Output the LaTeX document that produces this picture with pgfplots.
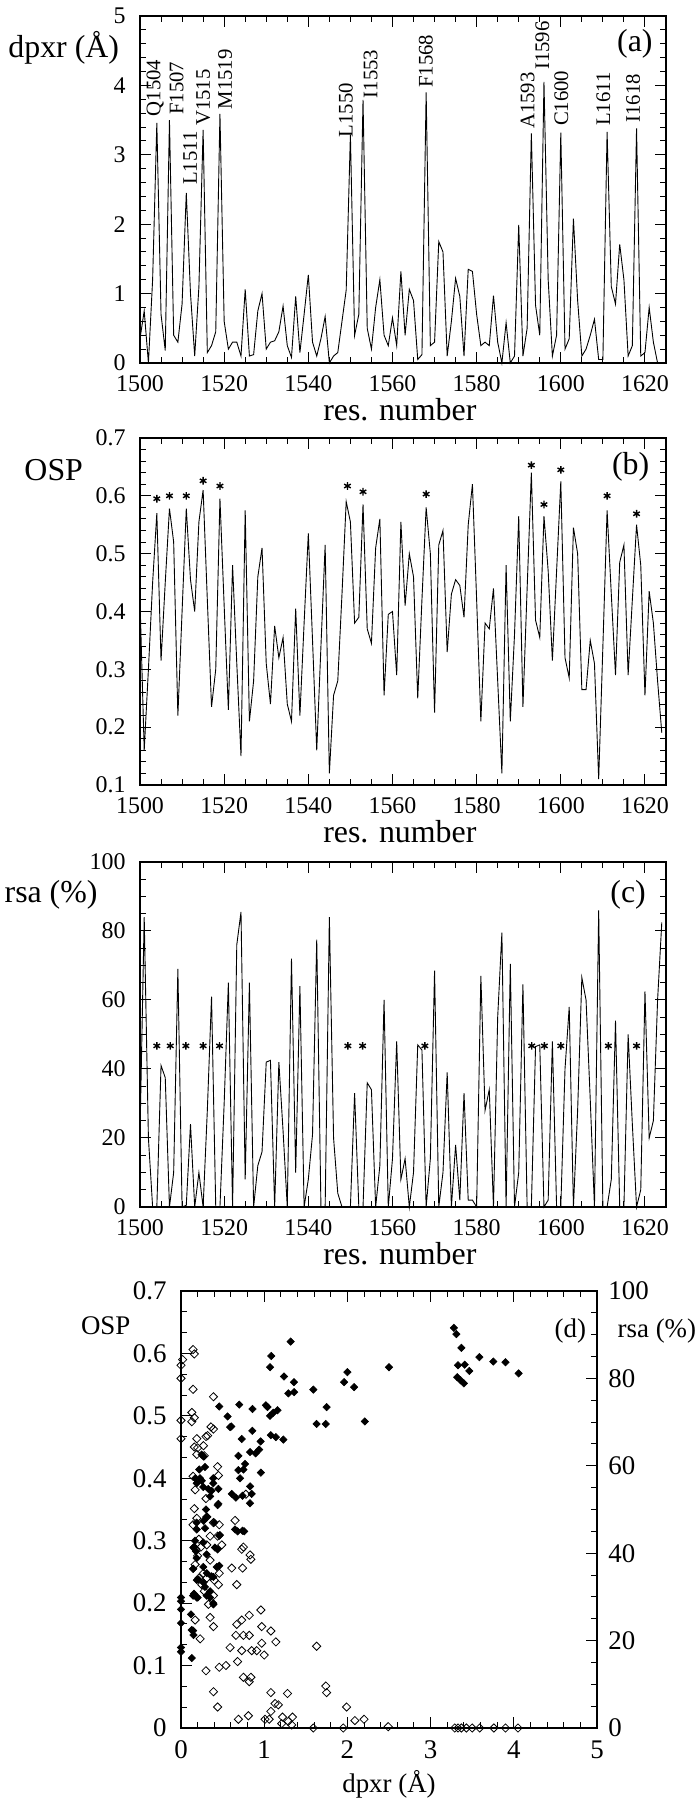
\documentclass[border=0pt]{standalone}
\usepackage{fontspec}
\setmainfont{Liberation Serif}
\usepackage{pgfplots}
\pgfplotsset{compat=1.18}
\usepackage{pgfplotstable}

\pgfplotstableread{
r v
1500 0.35
1501 0.75
1502 0.0
1503 1.2
1504 3.46
1505 0.7
1506 0.18
1507 3.5
1508 0.4
1509 0.3
1510 0.85
1511 2.45
1512 1.0
1513 0.1
1514 1.1
1515 3.36
1516 0.15
1517 0.25
1518 0.45
1519 3.59
1520 0.6
1521 0.2
1522 0.3
1523 0.3
1524 0.1
1525 1.06
1526 0.1
1527 0.12
1528 0.75
1529 1.0
1530 0.2
1531 0.3
1532 0.32
1533 0.45
1534 0.82
1535 0.25
1536 0.08
1537 0.96
1538 0.15
1539 0.7
1540 1.27
1541 0.3
1542 0.1
1543 0.35
1544 0.67
1545 0.0
1546 0.1
1547 0.15
1548 0.6
1549 1.05
1550 3.29
1551 0.4
1552 0.7
1553 3.79
1554 0.5
1555 0.2
1556 0.8
1557 1.2
1558 0.4
1559 0.25
1560 0.65
1561 0.25
1562 1.32
1563 0.4
1564 1.06
1565 0.9
1566 0.05
1567 0.12
1568 3.9
1569 0.25
1570 0.3
1571 1.75
1572 1.6
1573 0.1
1574 0.6
1575 1.22
1576 0.96
1577 0.1
1578 1.35
1579 1.32
1580 0.7
1581 0.25
1582 0.3
1583 0.25
1584 0.97
1585 0.3
1586 0.0
1587 0.58
1588 0.0
1589 0.1
1590 1.99
1591 0.1
1592 0.5
1593 3.31
1594 0.83
1595 0.4
1596 4.05
1597 1.2
1598 0.1
1599 0.4
1600 3.32
1601 0.2
1602 0.35
1603 2.08
1604 0.9
1605 0.1
1606 0.2
1607 0.4
1608 0.63
1609 0.05
1610 0.05
1611 3.33
1612 1.1
1613 0.85
1614 1.71
1615 1.2
1616 0.1
1617 0.25
1618 3.38
1619 0.1
1620 0.15
1621 0.8
1622 0.3
1623 0.0
1624 0.0
}\dpxrtab

\pgfplotstableread{
r v
1500 0.42
1501 0.16
1502 0.30
1503 0.45
1504 0.57
1505 0.315
1506 0.45
1507 0.578
1508 0.52
1509 0.22
1510 0.40
1511 0.578
1512 0.455
1513 0.40
1514 0.555
1515 0.61
1516 0.42
1517 0.235
1518 0.30
1519 0.595
1520 0.41
1521 0.23
1522 0.48
1523 0.31
1524 0.15
1525 0.575
1526 0.21
1527 0.28
1528 0.46
1529 0.51
1530 0.31
1531 0.24
1532 0.375
1533 0.32
1534 0.355
1535 0.24
1536 0.21
1537 0.405
1538 0.22
1539 0.38
1540 0.535
1541 0.35
1542 0.16
1543 0.34
1544 0.515
1545 0.12
1546 0.255
1547 0.28
1548 0.43
1549 0.59
1550 0.555
1551 0.38
1552 0.39
1553 0.585
1554 0.37
1555 0.345
1556 0.51
1557 0.56
1558 0.255
1559 0.395
1560 0.40
1561 0.29
1562 0.555
1563 0.41
1564 0.50
1565 0.46
1566 0.25
1567 0.42
1568 0.58
1569 0.50
1570 0.225
1571 0.515
1572 0.54
1573 0.33
1574 0.43
1575 0.455
1576 0.445
1577 0.39
1578 0.55
1579 0.62
1580 0.42
1581 0.21
1582 0.38
1583 0.37
1584 0.44
1585 0.28
1586 0.12
1587 0.48
1588 0.21
1589 0.36
1590 0.565
1591 0.235
1592 0.44
1593 0.64
1594 0.385
1595 0.355
1596 0.565
1597 0.47
1598 0.315
1599 0.47
1600 0.625
1601 0.32
1602 0.285
1603 0.545
1604 0.50
1605 0.265
1606 0.265
1607 0.35
1608 0.31
1609 0.11
1610 0.34
1611 0.575
1612 0.43
1613 0.29
1614 0.485
1615 0.515
1616 0.29
1617 0.42
1618 0.55
1619 0.48
1620 0.255
1621 0.435
1622 0.38
1623 0.28
1624 0.19
}\osptab

\pgfplotstableread{
r v
1500 21
1501 84
1502 20
1503 0
1504 0
1505 41
1506 37.5
1507 0
1508 10
1509 69
1510 0
1511 0.5
1512 24
1513 0
1514 10
1515 0
1516 28
1517 61
1518 0
1519 0
1520 30
1521 65
1522 0
1523 76
1524 85.5
1525 8
1526 65
1527 0
1528 12
1529 16
1530 42
1531 42.5
1532 0
1533 42
1534 22
1535 0
1536 72
1537 10
1538 64
1539 0
1540 8
1541 21
1542 77.5
1543 0
1544 0
1545 84
1546 20
1547 4
1548 0
1549 0
1550 0
1551 33
1552 0
1553 0
1554 36
1555 34
1556 0
1557 12
1558 60
1559 0
1560 14
1561 48
1562 8
1563 14
1564 0
1565 10
1566 47
1567 45.5
1568 0
1569 14
1570 68.5
1571 0
1572 10
1573 39
1574 0
1575 18
1576 2
1577 33
1578 2
1579 2
1580 0
1581 67
1582 28
1583 34
1584 0
1585 55
1586 79.5
1587 0
1588 70.5
1589 0
1590 10
1591 64.5
1592 0
1593 0
1594 46.5
1595 47
1596 0
1597 2
1598 48
1599 0
1600 0
1601 40
1602 58
1603 0
1604 28
1605 66.5
1606 60
1607 31
1608 0
1609 86
1610 0
1611 0
1612 8
1613 54
1614 0
1615 0
1616 50
1617 24
1618 0
1619 5
1620 62.5
1621 20
1622 25
1623 60
1624 82.5
}\rsatab

\pgfplotstableread{
d o
1.318 0.619
1.085 0.596
1.07 0.578
1.238 0.563
1.358 0.554
1.59 0.542
1.29 0.536
1.36 0.538
2.00 0.570
1.96 0.554
2.08 0.546
2.50 0.578
1.75 0.514
1.63 0.487
1.74 0.487
2.21 0.491
0.46 0.515
0.70 0.518
0.86 0.511
0.56 0.499
0.605 0.483
1.02 0.517
1.04 0.514
1.07 0.50
1.11 0.505
1.16 0.509
1.08 0.469
1.14 0.466
1.23 0.462
0.73 0.463
0.857 0.476
0.957 0.459
0.94 0.446
0.897 0.440
0.83 0.442
0.69 0.436
0.96 0.409
0.77 0.423
0.69 0.413
0.71 0.40
0.74 0.372
0.61 0.375
0.83 0.387
0.85 0.375
0.83 0.36
0.45 0.359
3.28 0.641
3.31 0.631
3.37 0.609
3.33 0.581
3.41 0.582
3.465 0.572
3.586 0.594
3.754 0.587
3.90 0.586
4.058 0.568
3.32 0.562
3.36 0.557
3.40 0.552
0.248 0.438
0.288 0.418
0.228 0.40
0.188 0.392
0.268 0.386
0.328 0.383
0.388 0.392
0.368 0.38
0.388 0.40
0.308 0.338
0.288 0.32
0.188 0.329
0.468 0.309
0.65 0.318
0.74 0.316
0.408 0.289
0.268 0.297
0.168 0.30
0.148 0.289
0.308 0.278
0.188 0.272
0.268 0.258
0.148 0.255
0.46 0.26
0.368 0.243
0.208 0.238
0.288 0.226
0.156 0.215
0.188 0.209
0.308 0.212
0.388 0.20
0.348 0.209
0.128 0.157
0.13 0.112
0 0.209
0 0.203
0 0.19
0 0.168
0 0.129
0 0.122
0.12 0.182
0.145 0.156
0.15 0.149
0.45 0.383
0.44 0.357
0.35 0.371
0.40 0.329
0.46 0.308
0.44 0.286
0.43 0.258
0.39 0.242
0.39 0.198
0.35 0.219
0.27 0.233
0.19 0.237
0.20 0.209
0.145 0.212
0.145 0.255
0.18 0.283
0.19 0.318
0.16 0.29
0.17 0.40
0.22 0.414
0.27 0.435
0.25 0.396
0.30 0.35
0.27 0.332
0.31 0.248
0.66 0.369
0.68 0.315
0.76 0.315
0.75 0.414
0.59 0.482
}\filledtab

\pgfplotstableread{
d s
0.02 84.3
0 83
0 80
0 70.4
0 66.2
0.145 86.6
0.16 85.6
0.145 77.5
0.13 72.2
0.16 71
0.13 70.1
0.19 66.2
0.2 64.1
0.16 64.3
0.19 62.6
0.27 64.6
0.28 62.3
0.30 66.7
0.32 66.9
0.36 68.9
0.39 68.4
0.39 75.8
0.44 59.8
0.45 57.8
0.145 57.6
0.17 54.5
0.16 50.2
0.145 46.5
0.19 48
0.215 43.2
0.24 41.4
0.18 40.9
0.2 39.4
0.3 52.5
0.31 48.3
0.35 43.9
0.31 41.9
0.39 47
0.46 46.5
0.44 43.9
0.49 41.9
0.35 38.4
0.27 35.4
0.31 34.3
0.40 33.8
0.46 35.4
0.45 32.8
0.17 37.4
0.215 34.3
0.25 32.8
0.28 31.3
0.39 30.3
0.33 28.3
0.65 47.5
0.73 40.9
0.75 41.4
0.83 39.6
0.84 38.6
0.61 36.6
0.74 36.6
0.67 32.8
0.78 53.5
0.35 25.3
0.39 23.2
0.17 24.7
0.23 20.4
0.30 13.1
0.39 8.3
0.44 4.8
0.46 13.9
0.54 14.3
0.59 18.4
0.67 23.7
0.66 21.2
0.73 24.7
0.75 21.2
0.82 25.8
0.82 21.2
0.73 17.7
0.68 15.2
0.75 11.6
0.84 11.6
0.82 10.6
0.85 17.7
0.91 17.7
0.96 27
0.97 23.2
0.97 19.4
1.0 16.7
1.08 22.2
1.14 19.7
0.69 2
0.81 2.8
1.01 2
1.06 2
1.08 3.8
1.08 8.1
1.13 5.6
1.17 5.3
1.21 1
1.22 2.5
1.28 7.9
1.29 1.5
1.33 0.7
1.34 2.5
1.59 0
1.63 18.7
1.74 9.6
1.75 8.1
1.95 0
1.99 4.8
2.09 1.7
2.2 2
2.49 0.3
3.29 0
3.33 0
3.37 0
3.43 0
3.5 0
3.59 0
3.76 0
3.9 0
4.05 0
}\opentab

\tikzset{
  lbl/.style={font=\fontsize{16}{16}\selectfont, inner sep=0pt},
  lbd/.style={font=\fontsize{13.5}{13.5}\selectfont, inner sep=0pt},
  rl/.style={rotate=90, anchor=west, inner sep=0pt, font=\fontsize{10.4}{10.4}\selectfont},
}
\pgfplotsset{
  base/.style={
    scale only axis, anchor=south west,
    tick align=inside,
    major tick length=5.5bp, minor tick length=3bp,
    tick style={black, line width=0.5bp},
    axis line style={line width=0.7bp},
    /pgf/number format/assume math mode=true,
    clip=false,
  },
  res/.style={base, width=263bp, height=173.5bp, xmin=1500, xmax=1625,
    xtick={1500,1520,...,1620}, minor x tick num=3,
    x tick label style={/pgf/number format/1000 sep={}, font=\fontsize{12}{12}\selectfont, inner sep=1bp, yshift=-5bp},
    y tick label style={font=\fontsize{12}{12}\selectfont, inner sep=1bp, xshift=-6bp},
  },
  ln/.style={black, line width=0.45bp, mark=none},
  ast/.style={only marks, mark=asterisk, mark size=1.9bp, mark options={line width=0.7bp, black}},
}

\begin{document}
\begin{tikzpicture}
\path[use as bounding box] (0,0) rectangle (349.5bp,900bp);

% (a)
\begin{axis}[res, at={(70bp,718.5bp)}, ymin=0, ymax=5, ytick={0,1,2,3,4,5}, minor y tick num=4]
\addplot[ln] table[x=r,y=v] {\dpxrtab};
\node[rl] at (axis cs:1503.6,3.55) {Q1504};
\node[rl] at (axis cs:1508.7,3.57) {F1507};
\node[rl] at (axis cs:1511.9,2.56) {L1511};
\node[rl] at (axis cs:1515.0,3.41) {V1515};
\node[rl] at (axis cs:1520.2,3.65) {M1519};
\node[rl] at (axis cs:1548.9,3.25) {L1550};
\node[rl] at (axis cs:1554.8,3.81) {I1553};
\node[rl] at (axis cs:1567.9,3.96) {F1568};
\node[rl] at (axis cs:1592.1,3.37) {A1593};
\node[rl] at (axis cs:1595.6,4.22) {I1596};
\node[rl] at (axis cs:1600.1,3.41) {C1600};
\node[rl] at (axis cs:1610.1,3.41) {L1611};
\node[rl] at (axis cs:1617.2,3.46) {I1618};
\node[lbl] at (axis cs:1617.6,4.6) {(a)};
\node[lbl] at (rel axis cs:-0.145,0.908) {dpxr (Å)};
\node[lbl] at (rel axis cs:0.494,0) [yshift=-23.5bp] {res. number};
\end{axis}

% (b)
\begin{axis}[res, at={(70bp,507.5bp)}, ymin=0.1, ymax=0.7, ytick={0.1,0.2,0.3,0.4,0.5,0.6,0.7}, minor y tick num=4,
  yticklabel style={/pgf/number format/fixed, /pgf/number format/precision=1}]
\addplot[ln] table[x=r,y=v] {\osptab};
\addplot[ast] coordinates {(1504,0.595) (1507,0.600) (1511,0.600) (1515,0.626) (1519,0.617) (1549.3,0.617) (1553,0.607) (1568,0.603) (1593,0.653) (1596,0.585) (1600,0.645) (1611,0.600) (1618,0.569)};
\node[lbl] at (axis cs:1616.6,0.65) {(b)};
\node[lbl] at (rel axis cs:-0.164,0.908) {OSP};
\node[lbl] at (rel axis cs:0.494,0) [yshift=-23.5bp] {res. number};
\end{axis}

% (c)
\begin{axis}[res, at={(70bp,296.5bp)}, height=172.5bp, ymin=0, ymax=100, ytick={0,20,40,60,80,100}, minor y tick num=3]
\addplot[ln] table[x=r,y=v] {\rsatab};
\addplot[ast] coordinates {(1504,46.7) (1507.2,46.7) (1510.9,46.7) (1515,46.7) (1518.9,46.7) (1549.4,46.7) (1552.9,46.7) (1567.7,46.7) (1593.1,46.7) (1596.1,46.7) (1600,46.7) (1611.3,46.7) (1618,46.7)};
\node[lbl] at (axis cs:1616,90.4) {(c)};
\node[lbl] at (rel axis cs:-0.169,0.904) {rsa (\%)};
\node[lbl] at (rel axis cs:0.494,0) [yshift=-23.5bp] {res. number};
\end{axis}

% (d)
\begin{axis}[base, at={(90.5bp,36bp)}, width=208bp, height=218.5bp,
  xmin=0, xmax=5, ymin=0, ymax=0.7,
  xtick={0,1,2,3,4,5}, minor x tick num=4,
  ytick={0,0.1,0.2,0.3,0.4,0.5,0.6,0.7}, minor y tick num=2,
  ytick pos=left,
  x tick label style={font=\fontsize{13.5}{13.5}\selectfont, inner sep=1bp, yshift=-5bp},
  y tick label style={font=\fontsize{13.5}{13.5}\selectfont, inner sep=1bp, xshift=-6bp, /pgf/number format/fixed, /pgf/number format/precision=1}]
\addplot[only marks, mark=square*, mark size=1.3bp, mark options={rotate=45, fill=black, draw=black, line width=0.3bp}] table[x=d,y=o] {\filledtab};
\node[lbd] at (axis cs:4.68,0.636) {(d)};
\node[lbd] at (rel axis cs:-0.181,0.92) {OSP};
\node[lbd] at (rel axis cs:0.5,0) [yshift=-28bp] {dpxr (Å)};
\end{axis}
\begin{axis}[base, at={(90.5bp,36bp)}, width=208bp, height=218.5bp,
  xmin=0, xmax=5, ymin=0, ymax=100,
  axis y line*=right, axis x line=none,
  ytick={0,20,40,60,80,100}, minor y tick num=3,
  y tick label style={font=\fontsize{13.5}{13.5}\selectfont, inner sep=1bp, xshift=4.5bp}]
\addplot[only marks, mark=square, mark size=1.45bp, mark options={rotate=45, draw=black, line width=0.4bp}] table[x=d,y=s] {\opentab};
\node[lbd] at (rel axis cs:1.144,0.909) {rsa (\%)};
\end{axis}
\end{tikzpicture}
\end{document}
